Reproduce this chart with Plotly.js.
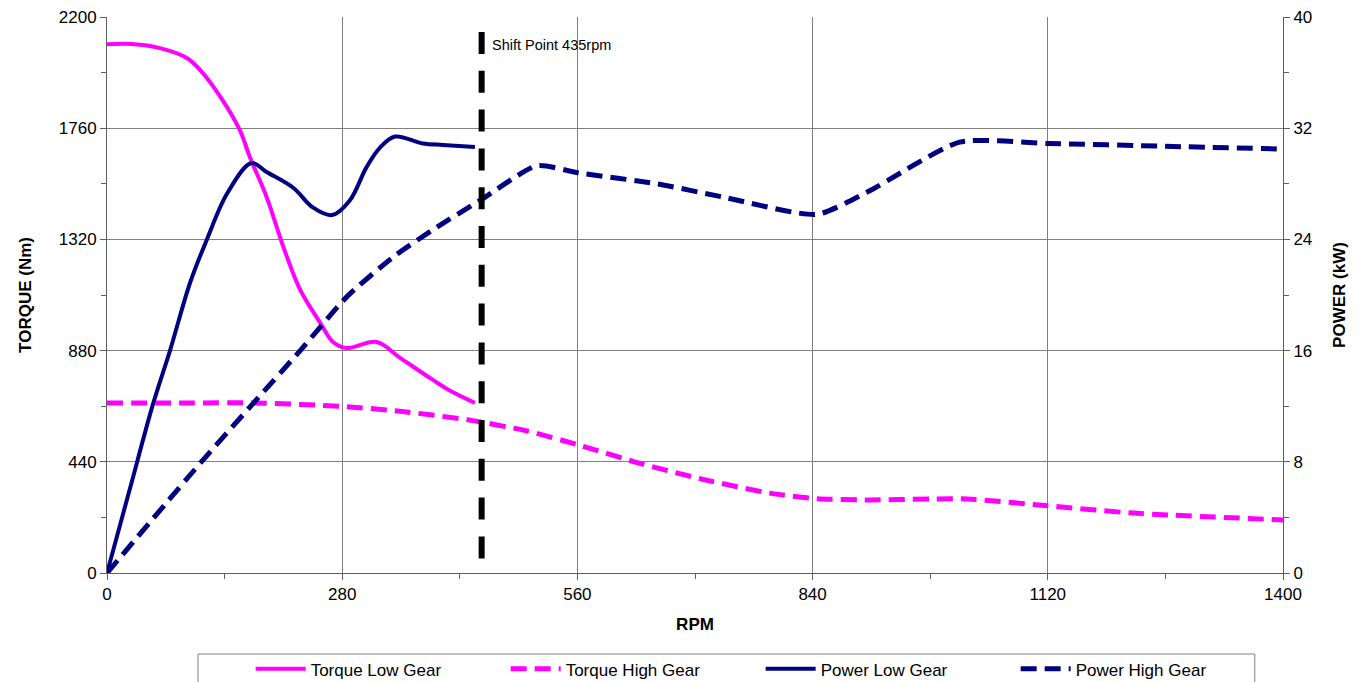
<!DOCTYPE html>
<html>
<head>
<meta charset="utf-8">
<script src="https://cdn.plot.ly/plotly-3.0.1.min.js"></script>
<style>
  html, body { margin: 0; padding: 0; background: #fff; }
  #chart { width: 1366px; height: 682px; }
</style>
</head>
<body>
<div id="chart"></div>
<script>
// ---- data ----
const torqueLowRpm = [0, 30, 63, 95, 111, 135, 158, 170, 190, 210, 230, 254, 269, 285, 321, 349, 388, 408, 438];
const torqueLowNm  = [2092, 2093, 2077, 2038, 1990, 1884, 1753, 1646, 1488, 1290, 1120, 989, 914, 890, 914, 851, 764, 722, 673];

const torqueHighRpm = [0, 100, 174, 277, 349, 432, 500, 560, 631, 710, 789, 845, 908, 983, 1024, 1120, 1222, 1400];
const torqueHighNm  = [673, 673, 673, 660, 640, 605, 562, 508, 437, 370, 316, 294, 289, 293, 293, 266, 237, 210];

const powerLowRpm = [0, 27, 55, 75, 99, 119, 143, 172, 190, 222, 245, 268, 289, 309, 325, 343, 376, 400, 438];
const powerLowKw  = [0, 6.0, 12.2, 16.0, 20.9, 24.0, 27.3, 29.5, 28.85, 27.7, 26.3, 25.75, 26.8, 29.2, 30.6, 31.4, 30.9, 30.8, 30.65];

const powerHighRpm = [0, 111, 174, 230, 286, 340, 388, 444, 512, 560, 655, 733, 845, 908, 1015, 1120, 1260, 1400];
const powerHighKw  = [0, 7.9, 12.2, 16.0, 19.9, 22.7, 24.7, 26.8, 29.3, 28.8, 28.0, 27.05, 25.8, 27.5, 31.0, 30.9, 30.7, 30.5];

const shiftRpm = [446];
const shiftLabel = 'Shift Point 435rpm';

const seriesNames = ['Torque Low Gear', 'Torque High Gear', 'Power Low Gear', 'Power High Gear'];
const xTicks = [0, 280, 560, 840, 1120, 1400];
const yLeftTicks = [0, 440, 880, 1320, 1760, 2200];
const yRightTicks = [0, 8, 16, 24, 32, 40];

// ---- styles ----
const MAGENTA = '#FF00FF';
const NAVY = '#000080';
const FONT = 'Liberation Sans, Arial, sans-serif';

const traces = [
  { x: torqueLowRpm, y: torqueLowNm, name: seriesNames[0], type: 'scatter', mode: 'lines',
    line: { color: MAGENTA, width: 4, shape: 'spline', smoothing: 1 }, yaxis: 'y' },
  { x: torqueHighRpm, y: torqueHighNm, name: seriesNames[1], type: 'scatter', mode: 'lines',
    line: { color: MAGENTA, width: 5, dash: '16px,8px', shape: 'spline', smoothing: 0.6 }, yaxis: 'y' },
  { x: powerLowRpm, y: powerLowKw, name: seriesNames[2], type: 'scatter', mode: 'lines',
    line: { color: NAVY, width: 4, shape: 'spline', smoothing: 1 }, yaxis: 'y2' },
  { x: powerHighRpm, y: powerHighKw, name: seriesNames[3], type: 'scatter', mode: 'lines',
    line: { color: NAVY, width: 5, dash: '16px,8px', shape: 'spline', smoothing: 0.6 }, yaxis: 'y2' }
];

const axisCommon = {
  showline: true, linecolor: '#606060', linewidth: 1,
  ticks: 'outside', ticklen: 6, tickcolor: '#606060', tickwidth: 1,
  tickfont: { family: FONT, size: 17, color: '#000' },
  zeroline: false, fixedrange: true, automargin: false
};

const layout = {
  width: 1366, height: 682,
  margin: { l: 107, r: 83, t: 17, b: 109, pad: 0, autoexpand: false },
  paper_bgcolor: '#fff', plot_bgcolor: '#fff',
  font: { family: FONT, color: '#000' },
  showlegend: true,
  legend: {
    orientation: 'h', xref: 'container', yref: 'container',
    x: 0.1835, xanchor: 'left', y: 0.045, yanchor: 'top',
    font: { family: FONT, size: 17, color: '#000' },
    itemwidth: 50, entrywidth: 190, bgcolor: 'rgba(0,0,0,0)', borderwidth: 0,
    traceorder: 'normal'
  },
  xaxis: Object.assign({}, axisCommon, {
    range: [0, 1400], tickvals: xTicks, ticktext: xTicks.map(String),
    showgrid: true, gridcolor: '#808080', gridwidth: 1,
    minor: { dtick: 140, tick0: 0, ticks: 'outside', ticklen: 5, tickcolor: '#606060', showgrid: false },
    title: { text: 'RPM', font: { family: FONT, size: 17, weight: 'bold' }, standoff: 14 }
  }),
  yaxis: Object.assign({}, axisCommon, {
    range: [0, 2200], tickvals: yLeftTicks, ticktext: yLeftTicks.map(String),
    showgrid: true, gridcolor: '#808080', gridwidth: 1,
    minor: { dtick: 220, tick0: 0, ticks: 'outside', ticklen: 5, tickcolor: '#606060', showgrid: false },
    title: { text: 'TORQUE (Nm)', font: { family: FONT, size: 17, weight: 'bold' }, standoff: 22 }
  }),
  yaxis2: Object.assign({}, axisCommon, {
    overlaying: 'y', side: 'right', anchor: 'x',
    range: [0, 40], tickvals: yRightTicks, ticktext: yRightTicks.map(String),
    showgrid: false,
    minor: { dtick: 4, tick0: 0, ticks: 'outside', ticklen: 5, tickcolor: '#606060', showgrid: false },
    title: { text: 'POWER (kW)', font: { family: FONT, size: 17, weight: 'bold' }, standoff: 21 }
  }),
  shapes: [
    { type: 'line', xref: 'x', yref: 'paper', x0: shiftRpm[0], x1: shiftRpm[0], y0: 0.973, y1: 0.025,
      line: { color: '#000', width: 6, dash: '22px,16.8px' }, layer: 'above' },
    { type: 'rect', xref: 'paper', yref: 'paper', x0: 0.0774, x1: 0.976, y0: -0.25, y1: -0.1457,
      line: { color: '#808080', width: 1 }, fillcolor: 'rgba(0,0,0,0)', layer: 'above' }
  ],
  annotations: [
    { xref: 'x', yref: 'paper', x: shiftRpm[0], y: 0.95, xanchor: 'left', yanchor: 'middle',
      xshift: 8, text: shiftLabel, showarrow: false, font: { family: FONT, size: 14.5, color: '#000' } }
  ]
};

Plotly.newPlot('chart', traces, layout, { displayModeBar: false, staticPlot: true });
</script>
</body>
</html>
